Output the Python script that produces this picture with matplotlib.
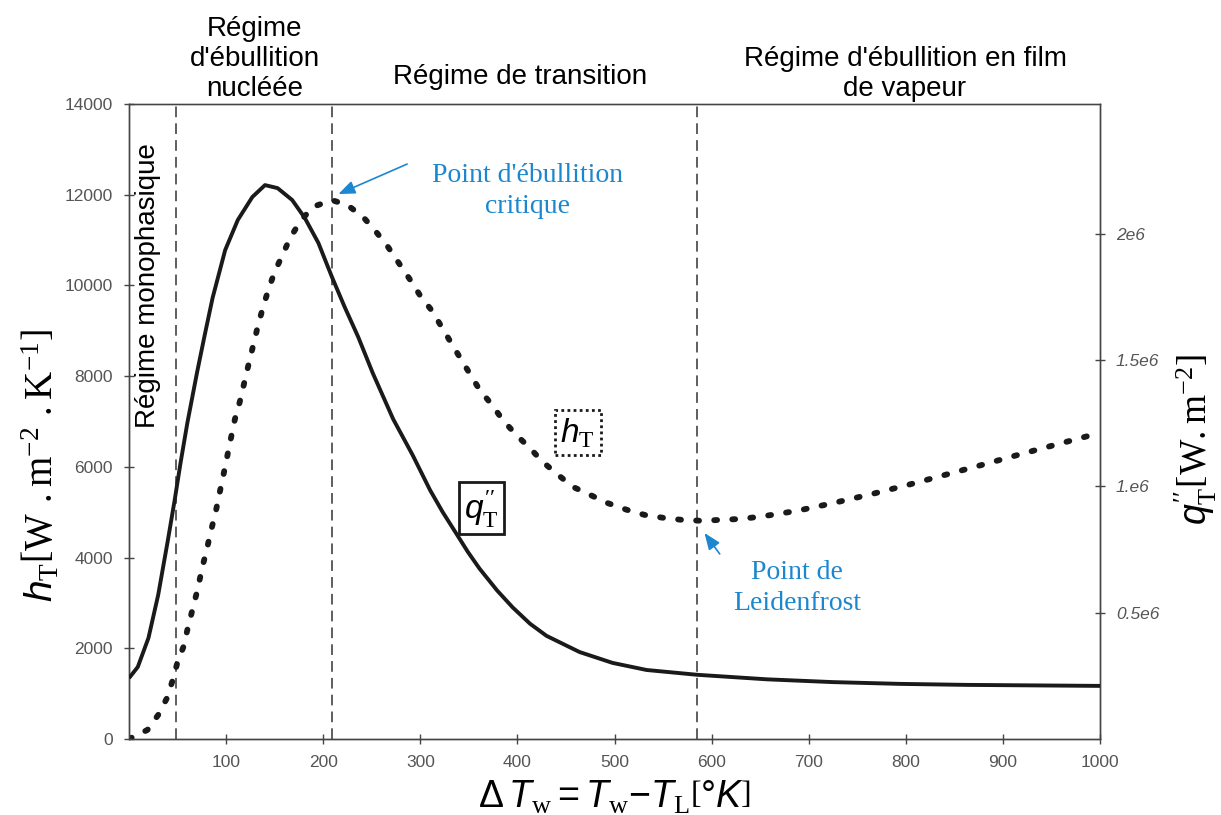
import numpy as np
import matplotlib
matplotlib.use("Agg")
import matplotlib.pyplot as plt

# --- data ------------------------------------------------------------------
# heat flux q''_T (solid, right axis, W/m2), in units of 1e6
dT_q = [0, 9, 20, 30, 40, 47, 53, 60, 70, 78, 86, 99, 112, 127, 140, 153,
        168, 181, 195, 209, 222, 236, 251, 272, 292, 310, 323, 338, 349, 361,
        379, 395, 413, 430, 464, 498, 533, 585, 657, 725, 794, 863, 1000]
q_T = [0.241, 0.285, 0.400, 0.570, 0.787, 0.946, 1.092, 1.250, 1.450, 1.600,
       1.745, 1.935, 2.054, 2.145, 2.192, 2.180, 2.133, 2.062, 1.963, 1.828,
       1.710, 1.591, 1.448, 1.266, 1.124, 0.985, 0.898, 0.807, 0.740, 0.674,
       0.588, 0.521, 0.456, 0.408, 0.344, 0.301, 0.273, 0.254, 0.236, 0.225,
       0.218, 0.214, 0.210]
q_T = [v * 1e6 for v in q_T]

# heat transfer coefficient h_T (dotted, left axis, W/m2/K)
dT_h = [0, 19, 30, 39, 45, 50, 56, 60, 66, 71, 75, 80, 84, 89, 93, 97, 101,
        105, 109, 114, 123, 128, 133, 138, 144, 150, 158, 166, 176, 189, 209,
        225, 241, 253, 266, 277, 289, 300, 312, 336, 361, 374, 385, 399, 413,
        426, 442, 457, 475, 493, 513, 531, 552, 570, 590, 608, 629, 650, 688,
        725, 765, 802, 840, 878, 915, 953, 1000]
h_T = [0, 200, 530, 900, 1300, 1700, 2030, 2400, 2910, 3330, 3750, 4170,
       4560, 4980, 5400, 5800, 6220, 6640, 7050, 7430, 8250, 8690, 9130,
       9520, 9940, 10300, 10670, 11050, 11400, 11730, 11880, 11770, 11510,
       11220, 10870, 10520, 10140, 9770, 9440, 8580, 7700, 7360, 7030, 6700,
       6410, 6110, 5820, 5560, 5380, 5200, 5050, 4940, 4870, 4830, 4810,
       4830, 4850, 4900, 5030, 5200, 5400, 5600, 5820, 6040, 6260, 6480,
       6750]

regime_limits = [48, 209, 585]
x_ticks = [100, 200, 300, 400, 500, 600, 700, 800, 900, 1000]
h_ticks = [0, 2000, 4000, 6000, 8000, 10000, 12000, 14000]
q_ticks = [0.5e6, 1e6, 1.5e6, 2e6]
q_tick_labels = ["0.5e6", "1.e6", "1.5e6", "2e6"]

BLUE = "#1b87cf"
GREY = "#555555"
INK = "#1a1a1a"

plt.rcParams["font.family"] = ["Liberation Sans", "DejaVu Sans"]
plt.rcParams["mathtext.fontset"] = "custom"
plt.rcParams["mathtext.rm"] = "Liberation Serif"
plt.rcParams["mathtext.it"] = "Liberation Sans:italic"
plt.rcParams["mathtext.sf"] = "Liberation Sans"
plt.rcParams["mathtext.bf"] = "Liberation Serif:bold"

fig = plt.figure(figsize=(12.21, 8.15), dpi=100)
ax = fig.add_axes([0.1057, 0.0933, 0.7952, 0.7791])
ax2 = ax.twinx()

ax.plot(dT_h, h_T, color=INK, linewidth=4.2, linestyle=(0, (0.5, 2.6)),
        dash_capstyle="round", zorder=3)
ax2.plot(dT_q, q_T, color=INK, linewidth=2.8, solid_capstyle="butt",
         solid_joinstyle="round", zorder=3)

for xv in regime_limits:
    ax.axvline(xv, color="#333333", linewidth=1.1, linestyle=(0, (7, 4)),
               zorder=1)

ax.set_xlim(0, 1000)
ax.set_ylim(0, 14000)
ax2.set_ylim(0, 2.513e6)
ax.set_xticks(x_ticks)
ax.set_yticks(h_ticks)
ax2.set_yticks(q_ticks)
ax2.set_yticklabels(q_tick_labels, fontstyle="italic")

for a in (ax, ax2):
    for s in a.spines.values():
        s.set_color("#444444")
        s.set_linewidth(1.0)
    a.tick_params(direction="inout", length=7, width=1.0, colors="#444444",
                  labelcolor=GREY, labelsize=12.5, pad=8)
ax.spines["top"].set_color("#777777")

# region titles above the plot
fig.text(0.2088, 0.9276, "Régime\nd'ébullition\nnucléée", ha="center",
         va="center", fontsize=20, linespacing=1.2)
fig.text(0.4259, 0.9055, "Régime de transition", ha="center", va="center",
         fontsize=20)
fig.text(0.7412, 0.9092, "Régime d'ébullition en film\nde vapeur",
         ha="center", va="center", fontsize=20, linespacing=1.2)
ax.text(19.6, 10000, "Régime monophasique", rotation=90, ha="center",
        va="center", fontsize=20)

# annotations
arrow_style = dict(arrowstyle="-|>,head_length=1.0,head_width=0.4",
                   color=BLUE, linewidth=1.2)
ax.annotate("", xy=(213, 11990), xytext=(289, 12700), arrowprops=arrow_style)
ax.text(410, 12080, "Point d'ébullition\ncritique", color=BLUE,
        family="Liberation Serif", fontsize=20, ha="center", va="center",
        linespacing=1.3)
ax.annotate("", xy=(591, 4590), xytext=(610, 4030), arrowprops=arrow_style)
ax.text(688, 3330, "Point de\nLeidenfrost", color=BLUE,
        family="Liberation Serif", fontsize=20, ha="center", va="center",
        linespacing=1.3)

ax.text(462, 6750, r"$h_{\mathrm{T}}$", fontsize=24, ha="center",
        va="center",
        bbox=dict(boxstyle="square,pad=0.17", facecolor="white",
                  edgecolor=INK, linestyle=(0, (1, 1.2)), linewidth=2))
ax.text(363, 5090, r"$q_{\mathrm{T}}^{\prime\prime}$", fontsize=24,
        ha="center", va="center", zorder=4,
        bbox=dict(boxstyle="square,pad=0.17", facecolor="white",
                  edgecolor=INK, linewidth=2))

# axis labels
fig.text(40 / 1221, 1 - 466 / 815,
         r"$h_{\mathrm{T}}\left[\mathrm{W\ .m^{-2}\ .K^{-1}}\right]$",
         rotation=90, ha="center", va="center", fontsize=28)
fig.text(1196 / 1221, 1 - 440 / 815,
         r"$q_{\mathrm{T}}^{\prime\prime}\left[\mathrm{W.m^{-2}}\right]$",
         rotation=90, ha="center", va="center", fontsize=27)
fig.text(615 / 1221, 1 - 797 / 815,
         r"$\mathsf{\Delta}\,T_{\mathrm{w}}\mathsf{=}T_{\mathrm{w}}"
         r"\mathsf{-}T_{\mathrm{L}}\left[\mathsf{°}K\right]$",
         ha="center", va="center", fontsize=27)

fig.savefig("out.png", dpi=100, facecolor="white")
